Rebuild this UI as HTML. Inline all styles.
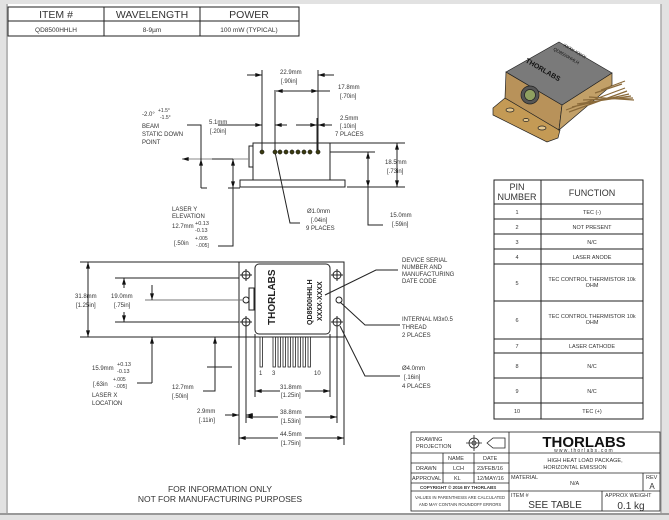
<!DOCTYPE html>
<html><head><style>
html,body{margin:0;padding:0;background:#d8d8d8;}
svg{display:block;}
text{font-family:"Liberation Sans",sans-serif;fill:#333;}
</style></head><body>
<svg width="669" height="520" viewBox="0 0 669 520" xmlns="http://www.w3.org/2000/svg">
<defs>
<marker id="a" viewBox="0 0 10 6" refX="10" refY="3" markerWidth="7" markerHeight="4" orient="auto-start-reverse"><path d="M0,0 L10,3 L0,6 z" fill="#111"/></marker>
</defs>
<rect x="0" y="0" width="669" height="520" fill="#e2e2e2"/>
<rect x="8" y="4" width="653" height="509" fill="#fff"/>
<line x1="7" y1="4" x2="7" y2="513" stroke="#aaa" stroke-width="1.5"/>
<line x1="661" y1="4" x2="661" y2="513" stroke="#aaa" stroke-width="1.5"/>
<line x1="0" y1="514" x2="669" y2="514" stroke="#999" stroke-width="2"/>

<g stroke="#222" fill="none" stroke-width="1">
<rect x="8" y="7" width="291" height="29"/>
<line x1="8" y1="21" x2="299" y2="21"/>
<line x1="104" y1="7" x2="104" y2="36"/>
<line x1="200" y1="7" x2="200" y2="36"/>
</g>
<g font-size="10.5" text-anchor="middle"><text x="56" y="18">ITEM #</text><text x="152" y="18">WAVELENGTH</text><text x="249" y="18">POWER</text></g>
<g font-size="6.5" text-anchor="middle"><text x="56" y="32">QD8500HHLH</text><text x="152" y="32">8-9µm</text><text x="249" y="32">100 mW (TYPICAL)</text></g>

<!-- side view -->
<g stroke="#222" fill="none" stroke-width="1">
<rect x="253" y="143" width="77" height="37"/>
<rect x="240" y="180" width="105" height="7"/>
<rect x="249" y="146" width="4" height="21"/>
<line x1="262" y1="70" x2="262" y2="152"/>
<line x1="275" y1="90" x2="275" y2="152"/>
<line x1="317" y1="118" x2="317" y2="152"/>
<line x1="318" y1="70" x2="318" y2="152"/>
<line x1="247" y1="75" x2="262" y2="75" marker-end="url(#a)"/>
<line x1="334" y1="75" x2="318" y2="75" marker-end="url(#a)"/>
<line x1="276" y1="91" x2="318" y2="91" marker-start="url(#a)" marker-end="url(#a)"/>
<line x1="318" y1="91" x2="330" y2="91"/>
<line x1="218" y1="125" x2="262" y2="125" marker-end="url(#a)"/>
<line x1="275" y1="125" x2="287" y2="125" marker-start="url(#a)"/>
<line x1="296" y1="125" x2="317" y2="125" marker-end="url(#a)"/>
<line x1="332" y1="125" x2="318" y2="125" marker-end="url(#a)"/>
<line x1="330" y1="143" x2="405" y2="143"/>
<line x1="330" y1="152" x2="375" y2="152"/>
<line x1="347" y1="187" x2="405" y2="187"/>
<line x1="397" y1="143" x2="397" y2="187" marker-start="url(#a)" marker-end="url(#a)"/>
<line x1="368" y1="152" x2="368" y2="187" marker-start="url(#a)" marker-end="url(#a)"/>
<polyline points="368,187 368,225 383,225"/>
<polyline points="275,152 290,223 300,223"/>
<line x1="250" y1="159" x2="182" y2="159" stroke="#888" marker-end="url(#a)"/>
<polyline points="187,125 201,125 201,188"/>
<line x1="201" y1="159" x2="201" y2="188" marker-start="url(#a)"/>
<line x1="201" y1="188" x2="207" y2="188"/>
<line x1="212" y1="159" x2="233" y2="159"/>
<line x1="233" y1="159" x2="233" y2="188" marker-start="url(#a)" marker-end="url(#a)"/>
<line x1="228" y1="188" x2="240" y2="188"/>
<polyline points="233,188 233,246 218,246"/>
</g>
<g fill="#3a3a10" stroke="#111" stroke-width="0.5"><circle cx="262" cy="152" r="2.1"/><circle cx="275" cy="152" r="2.1"/><circle cx="280" cy="152" r="2.1"/><circle cx="286" cy="152" r="2.1"/><circle cx="292" cy="152" r="2.1"/><circle cx="298" cy="152" r="2.1"/><circle cx="304" cy="152" r="2.1"/><circle cx="310" cy="152" r="2.1"/><circle cx="318" cy="152" r="2.1"/></g>
<g font-size="6">
<text x="280" y="74">22.9mm</text><text x="281" y="83">[.90in]</text>
<text x="338" y="89">17.8mm</text><text x="340" y="98">[.70in]</text>
<text x="340" y="120">2.5mm</text><text x="340" y="128">[.10in]</text><text x="335" y="136">7 PLACES</text>
<text x="209" y="124">5.1mm</text><text x="210" y="133">[.20in]</text>
<text x="142" y="116">-2.0°</text><text x="158" y="112" font-size="5">+1.5°</text><text x="160" y="119" font-size="5">-1.5°</text>
<text x="142" y="128">BEAM</text><text x="142" y="136">STATIC DOWN</text><text x="142" y="144">POINT</text>
<text x="385" y="164">18.5mm</text><text x="387" y="173">[.73in]</text>
<text x="390" y="217">15.0mm</text><text x="392" y="226">[.59in]</text>
<text x="307" y="213">Ø1.0mm</text><text x="311" y="222">[.04in]</text><text x="306" y="230">9 PLACES</text>
<text x="172" y="211">LASER Y</text><text x="172" y="218">ELEVATION</text>
<text x="172" y="228">12.7mm</text><text x="195" y="225" font-size="5.5">+0.13</text><text x="195" y="232" font-size="5.5">-0.13</text>
<text x="174" y="245">[.50in</text><text x="195" y="240" font-size="5">+.005</text><text x="196" y="247" font-size="5">-.005]</text>
</g>

<!-- top view -->
<g stroke="#222" fill="none" stroke-width="1">
<rect x="239" y="262" width="105" height="75"/>
<rect x="255" y="264" width="75" height="70" rx="4"/>
<rect x="249" y="288" width="5" height="22"/>
<circle cx="246" cy="275" r="4"/><circle cx="246" cy="322" r="4"/><circle cx="337" cy="275" r="4"/><circle cx="337" cy="322" r="4"/>
<path d="M240,275h12M246,269v12M240,322h12M246,316v12M331,275h12M337,269v12M331,322h12M337,316v12"/>
<circle cx="246" cy="300" r="3"/><circle cx="339" cy="300" r="3"/>
<line x1="80" y1="262" x2="239" y2="262"/><line x1="80" y1="337" x2="239" y2="337"/>
<line x1="115" y1="278" x2="239" y2="278"/><line x1="115" y1="322" x2="239" y2="322"/>
<line x1="145" y1="300" x2="243" y2="300" stroke="#777"/>
<line x1="88" y1="262" x2="88" y2="337" marker-start="url(#a)" marker-end="url(#a)"/>
<line x1="124" y1="278" x2="124" y2="288" marker-start="url(#a)"/><line x1="124" y1="312" x2="124" y2="322" marker-end="url(#a)"/>
<line x1="152" y1="285" x2="152" y2="300" marker-end="url(#a)"/>
<line x1="152" y1="383" x2="152" y2="337" marker-end="url(#a)"/><line x1="152" y1="383" x2="137" y2="383"/>
<line x1="215" y1="367" x2="215" y2="337" marker-end="url(#a)"/><polyline points="215,367 215,391 203,391"/><line x1="207" y1="367" x2="232" y2="367"/>
<line x1="239" y1="337" x2="239" y2="445"/><line x1="344" y1="337" x2="344" y2="445"/>
<line x1="246" y1="327" x2="246" y2="423"/><line x1="337" y1="327" x2="337" y2="423"/>
<line x1="255" y1="334" x2="255" y2="397"/><line x1="330" y1="334" x2="330" y2="397"/>
<line x1="255" y1="391" x2="280" y2="391" marker-start="url(#a)"/><line x1="305" y1="391" x2="330" y2="391" marker-end="url(#a)"/>
<line x1="246" y1="417" x2="278" y2="417" marker-start="url(#a)"/><line x1="305" y1="417" x2="337" y2="417" marker-end="url(#a)"/>
<line x1="239" y1="438" x2="278" y2="438" marker-start="url(#a)"/><line x1="305" y1="438" x2="344" y2="438" marker-end="url(#a)"/>
<line x1="225" y1="415" x2="239" y2="415" marker-end="url(#a)"/><line x1="253" y1="415" x2="246" y2="415" marker-end="url(#a)"/>
<polyline points="398,270 376,270 325,295"/>
<polyline points="400,325 365,325 340,302"/>
<polyline points="400,376 365,376 340,326"/>
</g>
<g fill="#fff" stroke="#222" stroke-width="0.8">
<rect x="260" y="337" width="2.4" height="30"/>
<rect x="273" y="337" width="2.4" height="30"/><rect x="278" y="337" width="2.4" height="30"/><rect x="283" y="337" width="2.4" height="30"/><rect x="288" y="337" width="2.4" height="30"/><rect x="293" y="337" width="2.4" height="30"/><rect x="298" y="337" width="2.4" height="30"/><rect x="303" y="337" width="2.4" height="30"/><rect x="308" y="337" width="2.4" height="30"/>
</g>
<text transform="translate(275,325) rotate(-90)" font-size="10" font-weight="bold" style="fill:#222">THORLABS</text>
<text transform="translate(312,325) rotate(-90)" font-size="7" font-weight="bold" style="fill:#222">QD8500HHLH</text>
<text transform="translate(322,321) rotate(-90)" font-size="7" font-weight="bold" style="fill:#222">XXXX-XXXX</text>
<g font-size="6">
<text x="259" y="375">1</text><text x="272" y="375">3</text><text x="314" y="375">10</text>
<text x="280" y="389">31.8mm</text><text x="281" y="397">[1.25in]</text>
<text x="280" y="414">38.8mm</text><text x="281" y="423">[1.53in]</text>
<text x="280" y="436">44.5mm</text><text x="281" y="445">[1.75in]</text>
<text x="197" y="413">2.9mm</text><text x="199" y="422">[.11in]</text>
<text x="172" y="389">12.7mm</text><text x="172" y="398">[.50in]</text>
<text x="75" y="298">31.8mm</text><text x="76" y="307">[1.25in]</text>
<text x="111" y="298">19.0mm</text><text x="114" y="307">[.75in]</text>
<text x="92" y="370">15.9mm</text><text x="117" y="366" font-size="5.5">+0.13</text><text x="117" y="373" font-size="5.5">-0.13</text>
<text x="93" y="386">[.63in</text><text x="113" y="381" font-size="5">+.005</text><text x="114" y="388" font-size="5">-.005]</text>
<text x="92" y="397">LASER X</text><text x="92" y="405">LOCATION</text>
<text x="402" y="262">DEVICE SERIAL</text><text x="402" y="269">NUMBER AND</text><text x="402" y="276">MANUFACTURING</text><text x="402" y="283">DATE CODE</text>
<text x="402" y="321">INTERNAL M3x0.5</text><text x="402" y="329">THREAD</text><text x="402" y="337">2 PLACES</text>
<text x="402" y="370">Ø4.0mm</text><text x="404" y="379">[.16in]</text><text x="402" y="388">4 PLACES</text>
</g>
<g font-size="8.5" text-anchor="middle"><text x="220" y="492">FOR INFORMATION ONLY</text><text x="220" y="502">NOT FOR MANUFACTURING PURPOSES</text></g>

<!-- 3D -->
<g stroke="#222" stroke-width="0.7">
<polygon points="493,108 505,98 560,130 558,138 547,142 493,115" fill="#c49a55"/>
<polygon points="506,72 562,105 559,130 505,98" fill="#b8925a"/>
<polygon points="562,105 612,73 612,85 559,130" fill="#c2a068"/>
<polygon points="506,72 559,42 612,73 562,105" fill="#7a7a7a"/>
<ellipse cx="510" cy="110" rx="4" ry="2" fill="#e5c890"/><ellipse cx="526" cy="120" rx="3" ry="1.5" fill="#e5c890"/><ellipse cx="542" cy="128" rx="4" ry="2" fill="#e5c890"/>
<circle cx="530" cy="95" r="9" fill="#555"/><circle cx="530" cy="95" r="5.5" fill="#8fa060"/>
<path d="M566,110 L625,88 M569,112 L627,91 M572,107 L629,94 M577,104 L631,96 M583,100 L633,98 M589,97 L634,100 M595,93 L622,84 M601,90 L625,81" fill="none" stroke="#8a6a3a" stroke-width="1.2"/>
</g>
<text transform="translate(525,62) rotate(30)" font-size="7" font-weight="bold" style="fill:#111">THORLABS</text>
<text transform="translate(553,50) rotate(30)" font-size="4.5" style="fill:#111">QD8500HHLH</text>
<text transform="translate(563,46) rotate(30)" font-size="4.5" style="fill:#111">XXXX-XXXX</text>

<!-- pin table -->
<g stroke="#222" fill="none" stroke-width="1">
<rect x="494" y="180" width="149" height="239"/>
<line x1="541" y1="180" x2="541" y2="419"/>
<path d="M494,204h149M494,219h149M494,234h149M494,249h149M494,264h149M494,301h149M494,339h149M494,353h149M494,378h149M494,403h149"/>
</g>
<g font-size="9" text-anchor="middle"><text x="517" y="190">PIN</text><text x="517" y="200">NUMBER</text><text x="592" y="196">FUNCTION</text></g>
<g font-size="5.5" text-anchor="middle">
<text x="517" y="214">1</text><text x="592" y="214">TEC (-)</text>
<text x="517" y="229">2</text><text x="592" y="229">NOT PRESENT</text>
<text x="517" y="244">3</text><text x="592" y="244">N/C</text>
<text x="517" y="259">4</text><text x="592" y="259">LASER ANODE</text>
<text x="517" y="285">5</text><text x="592" y="281">TEC CONTROL THERMISTOR 10k</text><text x="592" y="287">OHM</text>
<text x="517" y="322">6</text><text x="592" y="318">TEC CONTROL THERMISTOR 10k</text><text x="592" y="324">OHM</text>
<text x="517" y="348">7</text><text x="592" y="348">LASER CATHODE</text>
<text x="517" y="368">8</text><text x="592" y="368">N/C</text>
<text x="517" y="393">9</text><text x="592" y="393">N/C</text>
<text x="517" y="413">10</text><text x="592" y="413">TEC (+)</text>
</g>

<!-- title block -->
<g stroke="#222" fill="none" stroke-width="0.8">
<rect x="411" y="432" width="249" height="79"/>
<line x1="509" y1="432" x2="509" y2="511"/>
<path d="M411,453h98M411,463h98M411,473h98M411,483h98M411,491h98"/>
<path d="M443,453v30M474,453v30"/>
<path d="M509,453h151M509,473h151M509,491h151M643,473v18M602,491v20"/>
<circle cx="474" cy="443" r="5"/><circle cx="474" cy="443" r="2"/><path d="M466,443h16M474,435v16"/>
<path d="M487,443 L493,438 L505,438 L505,448 L493,448 z"/>
</g>
<g font-size="5.5">
<text x="416" y="441">DRAWING</text><text x="416" y="448">PROJECTION</text>
<text x="448" y="460">NAME</text><text x="483" y="460">DATE</text>
<text x="416" y="470">DRAWN</text><text x="453" y="470">LCH</text><text x="477" y="470">23/FEB/16</text>
<text x="412" y="480">APPROVAL</text><text x="454" y="480">KL</text><text x="477" y="480">12/MAY/16</text>
<text x="420" y="489" font-size="4.5" font-weight="bold">COPYRIGHT © 2016 BY THORLABS</text>
<text x="460" y="499" font-size="4.2" text-anchor="middle">VALUES IN PARENTHESIS ARE CALCULATED</text>
<text x="460" y="506" font-size="4.2" text-anchor="middle">AND MAY CONTAIN ROUNDOFF ERRORS</text>
<text x="585" y="462" text-anchor="middle">HIGH HEAT LOAD PACKAGE,</text><text x="575" y="469" text-anchor="middle">HORIZONTAL EMISSION</text>
<text x="511" y="479">MATERIAL</text><text x="570" y="485">N/A</text>
<text x="646" y="479">REV</text>
<text x="511" y="497">ITEM #</text><text x="605" y="497">APPROX WEIGHT</text>
</g>
<text x="652" y="489" font-size="8" text-anchor="middle">A</text>
<text x="555" y="508" font-size="10" text-anchor="middle">SEE TABLE</text>
<text x="631" y="509" font-size="10" text-anchor="middle">0.1 kg</text>
<text x="584" y="447" font-size="15" font-weight="bold" text-anchor="middle" style="fill:#111">THORLABS</text>
<text x="584" y="452" font-size="5" text-anchor="middle" letter-spacing="1.2">www.thorlabs.com</text>
</svg>
</body></html>
